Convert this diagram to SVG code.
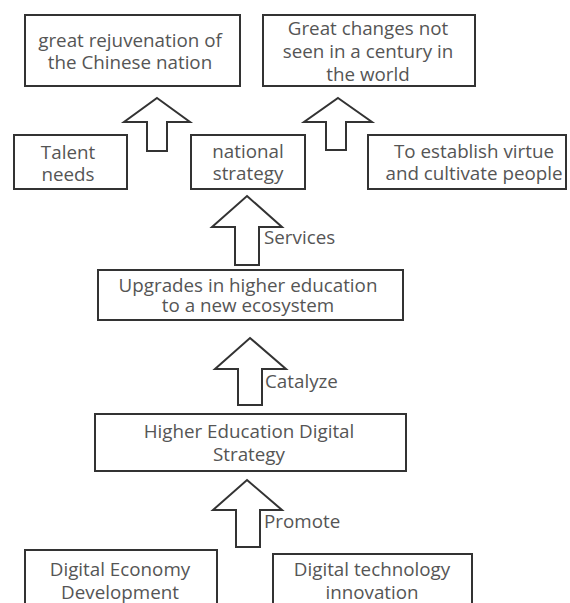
<svg xmlns="http://www.w3.org/2000/svg" width="570" height="603" viewBox="0 0 570 603">
<style>
.box{fill:#fff;stroke:#333;stroke-width:2}
.arr{fill:#fff;stroke:#333;stroke-width:2;stroke-linejoin:miter}
text{font-family:"Open Sans","Noto Sans",sans-serif;font-size:18.8px;fill:#555}
.c{text-anchor:middle}
</style>
<rect width="570" height="603" fill="#fff"/>
<g id="connectors">
<polygon class="arr" points="157,98 190,122 167,122 167,151 147,151 147,122 124,122"/>
<polygon class="arr" points="338,98 372,122 346,122 346,150 326,150 326,122 304,122"/>
<polygon class="arr" points="247,196 282,227 259,227 259,265 235,265 235,227 212,227"/>
<text x="264" y="244">Services</text>
<polygon class="arr" points="250,338 286,369 262,369 262,405 238,405 238,369 215,369"/>
<text x="265" y="388">Catalyze</text>
<polygon class="arr" points="247,480 282,510 260,510 260,547 236,547 236,510 213,510"/>
<text x="264" y="528">Promote</text>
</g>
<g id="rejuvenation">
<rect class="box" x="25" y="15" width="215" height="71"/>
<text class="c" x="130" y="47">great rejuvenation of</text>
<text class="c" x="130" y="69">the Chinese nation</text>
</g>
<g id="changes">
<rect class="box" x="263" y="15" width="212" height="71"/>
<text class="c" x="368" y="35">Great changes not</text>
<text class="c" x="368" y="58">seen in a century in</text>
<text class="c" x="368" y="81">the world</text>
</g>
<g id="talent">
<rect class="box" x="14" y="135" width="113" height="54"/>
<text class="c" x="68" y="159">Talent</text>
<text class="c" x="68" y="181">needs</text>
</g>
<g id="national">
<rect class="box" x="191" y="135" width="114" height="54"/>
<text class="c" x="248" y="158">national</text>
<text class="c" x="248" y="180">strategy</text>
</g>
<g id="virtue">
<rect class="box" x="368" y="135" width="198" height="54"/>
<text class="c" x="474" y="158">To establish virtue</text>
<text class="c" x="474" y="180">and cultivate people</text>
</g>
<g id="upgrades">
<rect class="box" x="98" y="270" width="305" height="50"/>
<text class="c" x="248" y="292">Upgrades in higher education</text>
<text class="c" x="248" y="312">to a new ecosystem</text>
</g>
<g id="digital-strategy">
<rect class="box" x="95" y="414" width="311" height="57"/>
<text class="c" x="249" y="438">Higher Education Digital</text>
<text class="c" x="249" y="461">Strategy</text>
</g>
<g id="digital-economy">
<rect class="box" x="25" y="550" width="192" height="60"/>
<text class="c" x="120" y="576">Digital Economy</text>
<text class="c" x="120" y="599">Development</text>
</g>
<g id="digital-tech">
<rect class="box" x="273" y="554" width="199" height="60"/>
<text class="c" x="372" y="576">Digital technology</text>
<text class="c" x="372" y="599">innovation</text>
</g>
</svg>
